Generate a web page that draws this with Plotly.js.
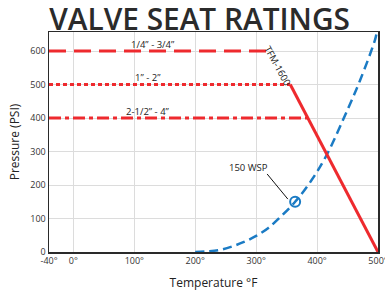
<!DOCTYPE html>
<html><head><meta charset="utf-8">
<script src="https://cdn.plot.ly/plotly-3.0.1.min.js"></script>
<style>body{margin:0;padding:0;background:#fff}#c{width:385px;height:294px}</style>
</head><body><div id="c"></div>
<script>
// Rating lines (pressure PSI held constant up to a temperature limit)
var sizeLabels = ['1/4” - 3/4”', '1” - 2”', '2-1/2” - 4”'];
var ratingPsi = [600, 500, 400];
var ratingEndTemp = [320, 356, 385];
var startTemp = -40;
// TFM-1600 seat limit line
var tfmTemp = [356, 500];
var tfmPsi = [500, 0];
// 150 WSP steam saturation curve
var wspTemp = [200, 220, 240, 260, 280, 300, 320, 340, 364, 390, 415, 450, 470, 495, 498];
var wspPsi  = [0, 2, 6, 16, 30, 48, 72, 105, 150, 212, 287, 425, 510, 633, 657];
var wspPoint = {t: 364, p: 150};
var xTicks = [-40, 0, 100, 200, 300, 400, 500];
var xTickText = ['-40°', '0°', '100°', '200°', '300°', '400°', '500°'];
var yTicks = [0, 100, 200, 300, 400, 500, 600];

var red = '#ee2a2e', blue = '#1b7bc4';
var dashes = ['17px,8px', '4px,3px', '12px,4px,4px,4px'];
var traces = [];
for (var i = 0; i < ratingPsi.length; i++) {
  traces.push({x: [startTemp, ratingEndTemp[i]], y: [ratingPsi[i], ratingPsi[i]], mode: 'lines',
    line: {color: red, width: 3, dash: dashes[i]}, hoverinfo: 'skip'});
}
traces.push({x: wspTemp, y: wspPsi, mode: 'lines', line: {color: blue, width: 2.5, dash: '9px,5px', shape: 'spline'}});
traces.push({x: tfmTemp, y: tfmPsi, mode: 'lines', line: {color: red, width: 3}});
traces.push({x: [wspPoint.t], y: [wspPoint.p], mode: 'markers',
  marker: {symbol: 'circle-open', size: 10, color: blue, line: {width: 2, color: blue}}});

var labelPos = [[130, 621], [122, 522], [122, 421]];
var anns = [];
for (var j = 0; j < sizeLabels.length; j++) {
  anns.push({x: labelPos[j][0], y: labelPos[j][1], text: sizeLabels[j], showarrow: false,
    font: {size: 9.5, color: '#222', family: 'Open Sans'}});
}
anns.push({x: 335, y: 557, text: 'TFM-1600', textangle: 61, showarrow: false,
  font: {size: 9.5, color: '#222', family: 'Open Sans'}});
anns.push({x: 287, y: 251, text: '150 WSP', showarrow: false,
  font: {size: 9.5, color: '#222', family: 'Open Sans'}});

var layout = {
  width: 385, height: 294,
  margin: {l: 49, r: 7, t: 32, b: 42},
  paper_bgcolor: '#fff', plot_bgcolor: '#fff',
  showlegend: false,
  font: {family: 'Open Sans', size: 9, color: '#333'},
  title: {text: 'VALVE SEAT RATINGS', x: 0.128, xanchor: 'left', xref: 'container',
    y: 0.933, yanchor: 'middle', yref: 'container',
    font: {family: 'Open Sans', size: 29.8, weight: 600, color: '#2b2b2b'}},
  xaxis: {range: [-40, 500], tickvals: xTicks, ticktext: xTickText, showgrid: true,
    gridcolor: '#dcdcdc', gridwidth: 1, showline: true, linecolor: '#2a2a2a', linewidth: 1.5,
    mirror: true, zeroline: false, ticks: '', ticklabeloverflow: 'allow',
    tickfont: {size: 9, color: '#333'},
    title: {text: 'Temperature °F', font: {size: 12, color: '#222'}, standoff: 12}},
  yaxis: {range: [0, 657], tickvals: yTicks, showgrid: true, gridcolor: '#dcdcdc', gridwidth: 1,
    showline: true, linecolor: '#2a2a2a', linewidth: 1.5, mirror: true, zeroline: false,
    ticks: '', tickfont: {size: 9, color: '#333'},
    title: {text: 'Pressure (PSI)', font: {size: 12, color: '#222'}, standoff: 8}},
  annotations: anns,
  shapes: [{type: 'line', xref: 'x', yref: 'y', x0: 318, y0: 233, x1: 352, y1: 158,
    line: {color: '#111', width: 1}}]
};
Plotly.newPlot('c', traces, layout, {displayModeBar: false, staticPlot: true});
</script></body></html>
